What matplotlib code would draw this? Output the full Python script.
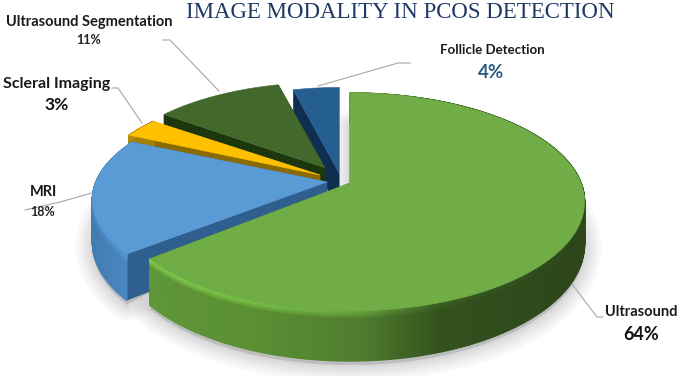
import numpy as np
import matplotlib
matplotlib.use('Agg')
import matplotlib.pyplot as plt
from matplotlib.patches import Polygon

title = 'IMAGE MODALITY IN PCOS DETECTION'
labels = ['Ultrasound', 'MRI', 'Scleral Imaging', 'Ultrasound Segmentation', 'Follicle Detection']
values = [64, 18, 3, 11, 4]

top_colors = ['#70ad47', '#5b9bd5', '#ffc000', '#43682b', '#255e91']
face_colors = ['#3f6a27', '#2f5f8f', '#8a6a06', '#1c360e', '#0f2e50']
side_colors = ['#4f7d2e', '#4a88c2', '#a57f08', '#2d4a1b', '#174066']

# where each slice's point ends up after exploding (pixels), and its radius scale
apex = [(350, 183), (327, 182), (320, 175), (325, 168), (339, 173)]
ry_scale = [1.0, 0.95, 0.95, 0.95, 0.95]
rx_scale = [1.0, 1.0, 0.98, 0.95, 0.93]

RX, RY, K = 231, 105.7, 0.174


def project(t, ap, i):
    u, v = np.sin(t), -np.cos(t)
    d = 1 - K * v
    x = ap[0] + RX * rx_scale[i] * u / d
    y = ap[1] + RY * ry_scale[i] * v / d
    return x, y, v


def depth(v):
    return 40 * (1 + 0.25 * v)


fig = plt.figure(figsize=(6.85, 3.76), dpi=100)
ax = fig.add_axes([0, 0, 1, 1])
ax.set_xlim(0, 685)
ax.set_ylim(376, 0)
ax.axis('off')

edges = np.cumsum([0] + values) / sum(values) * 2 * np.pi

# soft shadow under the two big slices
for i in [0, 1]:
    t = np.linspace(edges[i], edges[i + 1], 200)
    x, y, v = project(t, apex[i], i)
    pts = np.column_stack([np.r_[apex[i][0], x], np.r_[apex[i][1] + 20, y + depth(v) + 4]])
    for lw in [24, 19, 14, 10, 6, 3]:
        ax.add_patch(Polygon(pts, closed=True, fc='#777777', ec='#777777', lw=lw,
                             alpha=0.05, joinstyle='round', zorder=1))

# far slices first so the near ones cover them
for i in [4, 3, 2, 1, 0]:
    z = 10 + (4 - i) * 5
    t = np.linspace(edges[i], edges[i + 1], 240)
    x, y, v = project(t, apex[i], i)
    d = depth(v)
    ax_, ay_ = apex[i]

    # radial faces
    for j in [0, -1]:
        face = [(ax_, ay_), (x[j], y[j]), (x[j], y[j] + d[j]), (ax_, ay_ + depth(0))]
        ax.add_patch(Polygon(face, closed=True, fc=face_colors[i], ec=face_colors[i],
                             lw=0.3, zorder=z))

    # outer wall, shaded along the arc (the two far slices never show theirs)
    base = np.array(matplotlib.colors.to_rgb(side_colors[i]))
    for n in range(len(t) - 1 if i < 3 else 0):
        xm = (x[n] + x[n + 1]) / 2
        if i == 0:
            c = np.interp(xm, [150, 250, 360, 440, 590], [1.2, 1.15, 1.0, 0.65, 0.55])
            b = np.interp(xm, [150, 360, 470, 590], [1.35, 1.3, 1.1, 1.05])
        elif i == 1:
            c = np.interp(xm, [90, 130], [0.9, 1.0])
            b = 1.15
        else:
            c = 1.0
            b = 1.2
        col = np.clip(base * c, 0, 1)
        quad = [(x[n], y[n]), (x[n + 1], y[n + 1]),
                (x[n + 1], y[n + 1] + d[n + 1]), (x[n], y[n] + d[n])]
        ax.add_patch(Polygon(quad, closed=True, fc=col, ec=col, lw=1.0, zorder=z + 1))
        # soft highlight just under the top edge
        for h, m in [(6, 0.4), (4, 0.7), (2, 1.0)]:
            bev = np.clip(col * (1 + (b - 1) * m), 0, 1)
            band = [(x[n], y[n]), (x[n + 1], y[n + 1]),
                    (x[n + 1], y[n + 1] + h), (x[n], y[n] + h)]
            ax.add_patch(Polygon(band, closed=True, fc=bev, ec=bev, lw=0.8, zorder=z + 1.5))

    # top
    top = np.column_stack([np.r_[ax_, x], np.r_[ay_, y]])
    ax.add_patch(Polygon(top, closed=True, fc=top_colors[i], ec=top_colors[i], lw=0.4, zorder=z + 2))

# leader lines
leaders = [([572, 597, 603], [284, 317, 317]),
           ([25, 60, 92], [210, 202, 193]),
           ([112, 118, 142], [88, 88, 123]),
           ([163, 170, 219], [40, 40, 91]),
           ([318, 398, 410], [86, 63, 63])]
for lx, ly in leaders:
    ax.plot(lx, ly, color='#a6a6a6', lw=0.8, zorder=5)

font = ['Lato', 'DejaVu Sans']
ax.text(400.5, 12.5, title, family=['Liberation Serif'], fontsize=16.5, color='#1f3864',
        ha='center', va='center')

name_pos = [(641, 312), (44, 192), (57, 84), (89, 22), (492, 50)]
name_size = [10.5, 10.5, 11.5, 10.5, 9.5]
val_pos = [(641, 335), (43, 212), (57, 105), (89, 40), (491, 72)]
val_size = [13, 9, 12.5, 9, 13.5]
val_color = ['#111111', '#222222', '#111111', '#222222', '#2a5a80']
for i in range(len(labels)):
    ax.text(name_pos[i][0], name_pos[i][1], labels[i], family=font, weight='bold',
            fontsize=name_size[i], color='#1a1a1a', ha='center', va='center', zorder=50)
    ax.text(val_pos[i][0], val_pos[i][1], '%d%%' % values[i], family=font, weight='bold',
            fontsize=val_size[i], color=val_color[i], ha='center', va='center', zorder=50)

plt.savefig('out.png', dpi=100)
